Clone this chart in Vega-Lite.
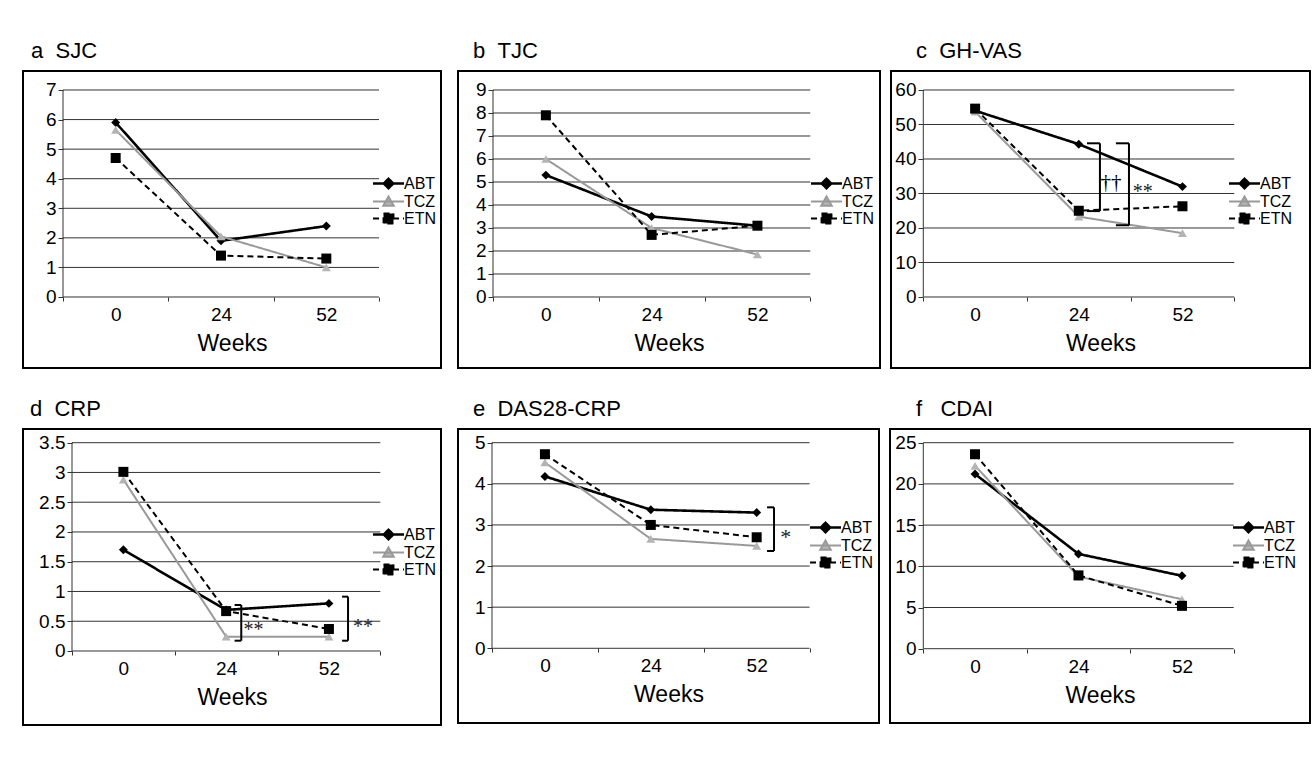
{
  "$schema": "https://vega.github.io/schema/vega-lite/v6.json",
  "background": "white",
  "padding": {"left": 22, "top": 38, "right": 0, "bottom": 0},
  "datasets": {
    "sjc": [
      {"drug": "ABT", "week": 0, "value": 5.9}, {"drug": "ABT", "week": 24, "value": 1.9}, {"drug": "ABT", "week": 52, "value": 2.4},
      {"drug": "TCZ", "week": 0, "value": 5.65}, {"drug": "TCZ", "week": 24, "value": 2.05}, {"drug": "TCZ", "week": 52, "value": 1.0},
      {"drug": "ETN", "week": 0, "value": 4.7}, {"drug": "ETN", "week": 24, "value": 1.4}, {"drug": "ETN", "week": 52, "value": 1.3}
    ],
    "tjc": [
      {"drug": "ABT", "week": 0, "value": 5.3}, {"drug": "ABT", "week": 24, "value": 3.5}, {"drug": "ABT", "week": 52, "value": 3.1},
      {"drug": "TCZ", "week": 0, "value": 6.0}, {"drug": "TCZ", "week": 24, "value": 3.0}, {"drug": "TCZ", "week": 52, "value": 1.85},
      {"drug": "ETN", "week": 0, "value": 7.9}, {"drug": "ETN", "week": 24, "value": 2.7}, {"drug": "ETN", "week": 52, "value": 3.1}
    ],
    "ghvas": [
      {"drug": "ABT", "week": 0, "value": 54.0}, {"drug": "ABT", "week": 24, "value": 44.3}, {"drug": "ABT", "week": 52, "value": 32.0},
      {"drug": "TCZ", "week": 0, "value": 53.7}, {"drug": "TCZ", "week": 24, "value": 23.3}, {"drug": "TCZ", "week": 52, "value": 18.5},
      {"drug": "ETN", "week": 0, "value": 54.6}, {"drug": "ETN", "week": 24, "value": 25.0}, {"drug": "ETN", "week": 52, "value": 26.3}
    ],
    "crp": [
      {"drug": "ABT", "week": 0, "value": 1.7}, {"drug": "ABT", "week": 24, "value": 0.69}, {"drug": "ABT", "week": 52, "value": 0.8},
      {"drug": "TCZ", "week": 0, "value": 2.88}, {"drug": "TCZ", "week": 24, "value": 0.24}, {"drug": "TCZ", "week": 52, "value": 0.24},
      {"drug": "ETN", "week": 0, "value": 3.01}, {"drug": "ETN", "week": 24, "value": 0.67}, {"drug": "ETN", "week": 52, "value": 0.37}
    ],
    "das": [
      {"drug": "ABT", "week": 0, "value": 4.18}, {"drug": "ABT", "week": 24, "value": 3.37}, {"drug": "ABT", "week": 52, "value": 3.3},
      {"drug": "TCZ", "week": 0, "value": 4.52}, {"drug": "TCZ", "week": 24, "value": 2.66}, {"drug": "TCZ", "week": 52, "value": 2.49},
      {"drug": "ETN", "week": 0, "value": 4.72}, {"drug": "ETN", "week": 24, "value": 3.0}, {"drug": "ETN", "week": 52, "value": 2.7}
    ],
    "cdai": [
      {"drug": "ABT", "week": 0, "value": 21.2}, {"drug": "ABT", "week": 24, "value": 11.5}, {"drug": "ABT", "week": 52, "value": 8.85},
      {"drug": "TCZ", "week": 0, "value": 22.2}, {"drug": "TCZ", "week": 24, "value": 8.75}, {"drug": "TCZ", "week": 52, "value": 6.0},
      {"drug": "ETN", "week": 0, "value": 23.6}, {"drug": "ETN", "week": 24, "value": 8.9}, {"drug": "ETN", "week": 52, "value": 5.2}
    ]
  },
  "resolve": {"scale": {"x": "independent", "y": "independent", "strokeDash": "independent"}, "legend": {"strokeDash": "independent"}},
  "spacing": 27,
  "vconcat": [
    {
      "spacing": 15,
      "resolve": {"scale": {"x": "independent", "y": "independent", "strokeDash": "independent"}, "legend": {"strokeDash": "independent"}},
      "hconcat": [
        {
          "width": 418, "height": 297,
          "title": {"text": "a\u00a0\u00a0SJC", "dx": 8},
          "layer": [
            {"data": {"values": [{"v": 0}, {"v": 1}, {"v": 2}, {"v": 3}, {"v": 4}, {"v": 5}, {"v": 6}, {"v": 7}]},
             "mark": {"type": "rule", "color": "#333333", "strokeWidth": 1},
             "encoding": {
               "x": {"datum": 0, "type": "ordinal", "bandPosition": 0, "title": "Weeks", "scale": {"type": "band", "domain": [0, 24, 52], "paddingInner": 0, "paddingOuter": 0.4842, "align": 0.3922}, "axis": {"offset": -71, "title": "Weeks"}},
               "x2": {"datum": 52, "bandPosition": 1},
               "y": {"field": "v", "type": "quantitative", "title": null, "scale": {"domain": [-2.401, 7.6425], "nice": false, "zero": false}, "axis": {"offset": -40, "values": [0, 1, 2, 3, 4, 5, 6, 7], "title": null, "tickCount": 20}}
             }},
            {"data": {"values": [{}]},
             "mark": {"type": "rule", "color": "#333333", "strokeWidth": 1},
             "encoding": {"x": {"datum": 0, "type": "ordinal", "bandPosition": 0, "title": "Weeks"}, "y": {"datum": 0, "type": "quantitative", "title": null}, "y2": {"datum": 7}}},
            {"data": {"name": "sjc"},
             "mark": {"type": "line"},
             "encoding": {
               "x": {"field": "week", "type": "ordinal", "title": "Weeks"},
               "y": {"field": "value", "type": "quantitative", "title": null},
               "color": {"condition": {"test": "datum.drug === 'TCZ'", "value": "#999999"}, "value": "#000000"},
               "strokeWidth": {"condition": {"test": "datum.drug === 'ABT'", "value": 2.6}, "value": 2},
               "strokeDash": {"field": "drug", "type": "nominal", "scale": {"domain": ["ABT", "TCZ", "ETN"], "range": [[1, 0], [1, 0], [6, 4]]},
                 "legend": {"orient": "none", "legendX": 357.5, "legendY": 104.5, "title": null,
                   "encoding": {"symbols": {
                     "shape": {"value": {"expr": "datum.value === 'ABT' ? 'M-1,0H1M0,-0.3L0.3,0L0,0.3L-0.3,0Z' : datum.value === 'TCZ' ? 'M-1,0H1M0,-0.32L0.34,0.28L-0.34,0.28Z' : 'M-1,0H1M-0.32,-0.32H0.32V0.32H-0.32Z'"}},
                     "fill": {"value": {"expr": "datum.value === 'TCZ' ? '#b4b4b4' : '#000000'"}},
                     "stroke": {"value": {"expr": "datum.value === 'TCZ' ? '#999999' : '#000000'"}},
                     "strokeWidth": {"value": {"expr": "datum.value === 'ABT' ? 2.6 : 2"}},
                     "opacity": {"value": 1}
                   }}}}
             }},
            {"data": {"name": "sjc"},
             "mark": {"type": "point", "filled": true, "opacity": 1},
             "encoding": {
               "x": {"field": "week", "type": "ordinal", "title": "Weeks"},
               "y": {"field": "value", "type": "quantitative", "title": null},
               "fill": {"condition": {"test": "datum.drug === 'TCZ'", "value": "#b4b4b4"}, "value": "#000000"},
               "size": {"condition": {"test": "datum.drug === 'ETN'", "value": 100}, "value": 80},
               "shape": {"condition": [{"test": "datum.drug === 'ABT'", "value": "diamond"}, {"test": "datum.drug === 'TCZ'", "value": "triangle-up"}], "value": "square"}
             }}
          ]
        },
        {
          "spacing": 9,
          "resolve": {"scale": {"x": "independent", "y": "independent", "strokeDash": "independent"}, "legend": {"strokeDash": "independent"}},
          "hconcat": [
            {
              "width": 422, "height": 297,
              "title": {"text": "b\u00a0\u00a0TJC", "dx": 15},
              "layer": [
                {"data": {"values": [{"v": 0}, {"v": 1}, {"v": 2}, {"v": 3}, {"v": 4}, {"v": 5}, {"v": 6}, {"v": 7}, {"v": 8}, {"v": 9}]},
                 "mark": {"type": "rule", "color": "#333333", "strokeWidth": 1},
                 "encoding": {
                   "x": {"datum": 0, "type": "ordinal", "bandPosition": 0, "title": "Weeks", "scale": {"type": "band", "domain": [0, 24, 52], "paddingInner": 0, "paddingOuter": 0.495, "align": 0.3343}, "axis": {"offset": -71, "title": "Weeks"}},
                   "x2": {"datum": 52, "bandPosition": 1},
                   "y": {"field": "v", "type": "quantitative", "title": null, "scale": {"domain": [-3.087, 9.826], "nice": false, "zero": false}, "axis": {"offset": -35, "values": [0, 1, 2, 3, 4, 5, 6, 7, 8, 9], "title": null, "tickCount": 20}}
                 }},
                {"data": {"values": [{}]},
                 "mark": {"type": "rule", "color": "#333333", "strokeWidth": 1},
                 "encoding": {"x": {"datum": 0, "type": "ordinal", "bandPosition": 0, "title": "Weeks"}, "y": {"datum": 0, "type": "quantitative", "title": null}, "y2": {"datum": 9}}},
                {"data": {"name": "tjc"},
                 "mark": {"type": "line"},
                 "encoding": {
                   "x": {"field": "week", "type": "ordinal", "title": "Weeks"},
                   "y": {"field": "value", "type": "quantitative", "title": null},
                   "color": {"condition": {"test": "datum.drug === 'TCZ'", "value": "#999999"}, "value": "#000000"},
                   "strokeWidth": {"condition": {"test": "datum.drug === 'ABT'", "value": 2.6}, "value": 2},
                   "strokeDash": {"field": "drug", "type": "nominal", "scale": {"domain": ["ABT", "TCZ", "ETN"], "range": [[1, 0], [1, 0], [6, 4]]},
                     "legend": {"orient": "none", "legendX": 360.5, "legendY": 104.5, "title": null,
                       "encoding": {"symbols": {
                         "shape": {"value": {"expr": "datum.value === 'ABT' ? 'M-1,0H1M0,-0.3L0.3,0L0,0.3L-0.3,0Z' : datum.value === 'TCZ' ? 'M-1,0H1M0,-0.32L0.34,0.28L-0.34,0.28Z' : 'M-1,0H1M-0.32,-0.32H0.32V0.32H-0.32Z'"}},
                         "fill": {"value": {"expr": "datum.value === 'TCZ' ? '#b4b4b4' : '#000000'"}},
                         "stroke": {"value": {"expr": "datum.value === 'TCZ' ? '#999999' : '#000000'"}},
                         "strokeWidth": {"value": {"expr": "datum.value === 'ABT' ? 2.6 : 2"}},
                         "opacity": {"value": 1}
                       }}}}
                 }},
                {"data": {"name": "tjc"},
                 "mark": {"type": "point", "filled": true, "opacity": 1},
                 "encoding": {
                   "x": {"field": "week", "type": "ordinal", "title": "Weeks"},
                   "y": {"field": "value", "type": "quantitative", "title": null},
                   "fill": {"condition": {"test": "datum.drug === 'TCZ'", "value": "#b4b4b4"}, "value": "#000000"},
                   "size": {"condition": {"test": "datum.drug === 'ETN'", "value": 100}, "value": 80},
                   "shape": {"condition": [{"test": "datum.drug === 'ABT'", "value": "diamond"}, {"test": "datum.drug === 'TCZ'", "value": "triangle-up"}], "value": "square"}
                 }}
              ]
            },
            {
              "width": 419, "height": 297,
              "title": {"text": "c\u00a0\u00a0GH-VAS", "dx": 25},
              "layer": [
                {"data": {"values": [{"v": 0}, {"v": 10}, {"v": 20}, {"v": 30}, {"v": 40}, {"v": 50}, {"v": 60}]},
                 "mark": {"type": "rule", "color": "#333333", "strokeWidth": 1},
                 "encoding": {
                   "x": {"datum": 0, "type": "ordinal", "bandPosition": 0, "title": "Weeks", "scale": {"type": "band", "domain": [0, 24, 52], "paddingInner": 0, "paddingOuter": 0.5209, "align": 0.299}, "axis": {"offset": -71, "title": "Weeks"}},
                   "x2": {"datum": 52, "bandPosition": 1},
                   "y": {"field": "v", "type": "quantitative", "title": null, "scale": {"domain": [-20.58, 65.507], "nice": false, "zero": false}, "axis": {"offset": -32, "values": [0, 10, 20, 30, 40, 50, 60], "title": null, "tickCount": 20}}
                 }},
                {"data": {"values": [{}]},
                 "mark": {"type": "rule", "color": "#333333", "strokeWidth": 1},
                 "encoding": {"x": {"datum": 0, "type": "ordinal", "bandPosition": 0, "title": "Weeks"}, "y": {"datum": 0, "type": "quantitative", "title": null}, "y2": {"datum": 60}}},
                {"data": {"name": "ghvas"},
                 "mark": {"type": "line"},
                 "encoding": {
                   "x": {"field": "week", "type": "ordinal", "title": "Weeks"},
                   "y": {"field": "value", "type": "quantitative", "title": null},
                   "color": {"condition": {"test": "datum.drug === 'TCZ'", "value": "#999999"}, "value": "#000000"},
                   "strokeWidth": {"condition": {"test": "datum.drug === 'ABT'", "value": 2.6}, "value": 2},
                   "strokeDash": {"field": "drug", "type": "nominal", "scale": {"domain": ["ABT", "TCZ", "ETN"], "range": [[1, 0], [1, 0], [6, 4]]},
                     "legend": {"orient": "none", "legendX": 345.5, "legendY": 104.5, "title": null,
                       "encoding": {"symbols": {
                         "shape": {"value": {"expr": "datum.value === 'ABT' ? 'M-1,0H1M0,-0.3L0.3,0L0,0.3L-0.3,0Z' : datum.value === 'TCZ' ? 'M-1,0H1M0,-0.32L0.34,0.28L-0.34,0.28Z' : 'M-1,0H1M-0.32,-0.32H0.32V0.32H-0.32Z'"}},
                         "fill": {"value": {"expr": "datum.value === 'TCZ' ? '#b4b4b4' : '#000000'"}},
                         "stroke": {"value": {"expr": "datum.value === 'TCZ' ? '#999999' : '#000000'"}},
                         "strokeWidth": {"value": {"expr": "datum.value === 'ABT' ? 2.6 : 2"}},
                         "opacity": {"value": 1}
                       }}}}
                 }},
                {"data": {"name": "ghvas"},
                 "mark": {"type": "point", "filled": true, "opacity": 1},
                 "encoding": {
                   "x": {"field": "week", "type": "ordinal", "title": "Weeks"},
                   "y": {"field": "value", "type": "quantitative", "title": null},
                   "fill": {"condition": {"test": "datum.drug === 'TCZ'", "value": "#b4b4b4"}, "value": "#000000"},
                   "size": {"condition": {"test": "datum.drug === 'ETN'", "value": 100}, "value": 80},
                   "shape": {"condition": [{"test": "datum.drug === 'ABT'", "value": "diamond"}, {"test": "datum.drug === 'TCZ'", "value": "triangle-up"}], "value": "square"}
                 }},
                {"data": {"values": [{"y": 44.55}, {"y": 24.9}]},
                 "mark": {"type": "rule", "color": "#000000", "strokeWidth": 2},
                 "encoding": {"x": {"datum": 24, "type": "ordinal", "bandPosition": 0.579, "title": "Weeks"}, "x2": {"datum": 24, "bandPosition": 0.704}, "y": {"field": "y", "type": "quantitative", "title": null}}},
                {"data": {"values": [{}]},
                 "mark": {"type": "rule", "color": "#000000", "strokeWidth": 2},
                 "encoding": {"x": {"datum": 24, "type": "ordinal", "bandPosition": 0.704, "title": "Weeks"}, "y": {"datum": 44.55, "type": "quantitative", "title": null}, "y2": {"datum": 24.9}}},
                {"data": {"values": [{"y": 44.55}, {"y": 20.8}]},
                 "mark": {"type": "rule", "color": "#000000", "strokeWidth": 2},
                 "encoding": {"x": {"datum": 24, "type": "ordinal", "bandPosition": 0.858, "title": "Weeks"}, "x2": {"datum": 24, "bandPosition": 0.984}, "y": {"field": "y", "type": "quantitative", "title": null}}},
                {"data": {"values": [{}]},
                 "mark": {"type": "rule", "color": "#000000", "strokeWidth": 2},
                 "encoding": {"x": {"datum": 24, "type": "ordinal", "bandPosition": 0.984, "title": "Weeks"}, "y": {"datum": 44.55, "type": "quantitative", "title": null}, "y2": {"datum": 20.8}}},
                {"data": {"values": [{"label": "††"}]},
                 "mark": {"type": "text", "font": "Liberation Serif", "fontSize": 21, "align": "center", "baseline": "middle", "color": "#000000", "fill": "#000000"},
                 "encoding": {"x": {"datum": 24, "type": "ordinal", "bandPosition": 0.81, "title": "Weeks"}, "y": {"datum": 33.1, "type": "quantitative", "title": null}, "text": {"field": "label"}}},
                {"data": {"values": [{"label": "**"}]},
                 "mark": {"type": "text", "font": "Liberation Serif", "fontSize": 20, "align": "center", "baseline": "middle", "color": "#222222", "fill": "#222222"},
                 "encoding": {"x": {"datum": 52, "type": "ordinal", "bandPosition": 0.116, "title": "Weeks"}, "y": {"datum": 30.3, "type": "quantitative", "title": null}, "text": {"field": "label"}}}
              ]
            }
          ]
        }
      ]
    },
    {
      "spacing": 15,
      "resolve": {"scale": {"x": "independent", "y": "independent", "strokeDash": "independent"}, "legend": {"strokeDash": "independent"}},
      "hconcat": [
        {
          "width": 418, "height": 296,
          "title": {"text": "d\u00a0\u00a0CRP", "dx": 7},
          "layer": [
            {"data": {"values": [{"v": 0}, {"v": 0.5}, {"v": 1}, {"v": 1.5}, {"v": 2}, {"v": 2.5}, {"v": 3}, {"v": 3.5}]},
             "mark": {"type": "rule", "color": "#333333", "strokeWidth": 1},
             "encoding": {
               "x": {"datum": 0, "type": "ordinal", "bandPosition": 0, "title": "Weeks", "scale": {"type": "band", "domain": [0, 24, 52], "paddingInner": 0, "paddingOuter": 0.5337, "align": 0.4467}, "axis": {"offset": -74, "title": "Weeks"}},
               "x2": {"datum": 52, "bandPosition": 1},
               "y": {"field": "v", "type": "quantitative", "title": null, "scale": {"domain": [-1.2435, 3.73], "nice": false, "zero": false}, "axis": {"offset": -49, "values": [0, 0.5, 1, 1.5, 2, 2.5, 3, 3.5], "title": null, "tickCount": 20}}
             }},
            {"data": {"values": [{}]},
             "mark": {"type": "rule", "color": "#333333", "strokeWidth": 1},
             "encoding": {"x": {"datum": 0, "type": "ordinal", "bandPosition": 0, "title": "Weeks"}, "y": {"datum": 0, "type": "quantitative", "title": null}, "y2": {"datum": 3.5}}},
            {"data": {"name": "crp"},
             "mark": {"type": "line"},
             "encoding": {
               "x": {"field": "week", "type": "ordinal", "title": "Weeks"},
               "y": {"field": "value", "type": "quantitative", "title": null},
               "color": {"condition": {"test": "datum.drug === 'TCZ'", "value": "#999999"}, "value": "#000000"},
               "strokeWidth": {"condition": {"test": "datum.drug === 'ABT'", "value": 2.6}, "value": 2},
               "strokeDash": {"field": "drug", "type": "nominal", "scale": {"domain": ["ABT", "TCZ", "ETN"], "range": [[1, 0], [1, 0], [6, 4]]},
                 "legend": {"orient": "none", "legendX": 357.5, "legendY": 97.5, "title": null,
                   "encoding": {"symbols": {
                     "shape": {"value": {"expr": "datum.value === 'ABT' ? 'M-1,0H1M0,-0.3L0.3,0L0,0.3L-0.3,0Z' : datum.value === 'TCZ' ? 'M-1,0H1M0,-0.32L0.34,0.28L-0.34,0.28Z' : 'M-1,0H1M-0.32,-0.32H0.32V0.32H-0.32Z'"}},
                     "fill": {"value": {"expr": "datum.value === 'TCZ' ? '#b4b4b4' : '#000000'"}},
                     "stroke": {"value": {"expr": "datum.value === 'TCZ' ? '#999999' : '#000000'"}},
                     "strokeWidth": {"value": {"expr": "datum.value === 'ABT' ? 2.6 : 2"}},
                     "opacity": {"value": 1}
                   }}}}
             }},
            {"data": {"name": "crp"},
             "mark": {"type": "point", "filled": true, "opacity": 1},
             "encoding": {
               "x": {"field": "week", "type": "ordinal", "title": "Weeks"},
               "y": {"field": "value", "type": "quantitative", "title": null},
               "fill": {"condition": {"test": "datum.drug === 'TCZ'", "value": "#b4b4b4"}, "value": "#000000"},
               "size": {"condition": {"test": "datum.drug === 'ETN'", "value": 100}, "value": 80},
               "shape": {"condition": [{"test": "datum.drug === 'ABT'", "value": "diamond"}, {"test": "datum.drug === 'TCZ'", "value": "triangle-up"}], "value": "square"}
             }},
            {"data": {"values": [{"y": 0.773}, {"y": 0.173}]},
             "mark": {"type": "rule", "color": "#000000", "strokeWidth": 2},
             "encoding": {"x": {"datum": 24, "type": "ordinal", "bandPosition": 0.582, "title": "Weeks"}, "x2": {"datum": 24, "bandPosition": 0.647}, "y": {"field": "y", "type": "quantitative", "title": null}}},
            {"data": {"values": [{}]},
             "mark": {"type": "rule", "color": "#000000", "strokeWidth": 2},
             "encoding": {"x": {"datum": 24, "type": "ordinal", "bandPosition": 0.647, "title": "Weeks"}, "y": {"datum": 0.773, "type": "quantitative", "title": null}, "y2": {"datum": 0.173}}},
            {"data": {"values": [{"y": 0.913}, {"y": 0.173}]},
             "mark": {"type": "rule", "color": "#000000", "strokeWidth": 2},
             "encoding": {"x": {"datum": 52, "type": "ordinal", "bandPosition": 0.628, "title": "Weeks"}, "x2": {"datum": 52, "bandPosition": 0.686}, "y": {"field": "y", "type": "quantitative", "title": null}}},
            {"data": {"values": [{}]},
             "mark": {"type": "rule", "color": "#000000", "strokeWidth": 2},
             "encoding": {"x": {"datum": 52, "type": "ordinal", "bandPosition": 0.686, "title": "Weeks"}, "y": {"datum": 0.913, "type": "quantitative", "title": null}, "y2": {"datum": 0.173}}},
            {"data": {"values": [{"label": "**"}]},
             "mark": {"type": "text", "font": "Liberation Serif", "fontSize": 20, "align": "center", "baseline": "middle", "color": "#222222", "fill": "#222222"},
             "encoding": {"x": {"datum": 24, "type": "ordinal", "bandPosition": 0.767, "title": "Weeks"}, "y": {"datum": 0.358, "type": "quantitative", "title": null}, "text": {"field": "label"}}},
            {"data": {"values": [{"label": "**"}]},
             "mark": {"type": "text", "font": "Liberation Serif", "fontSize": 20, "align": "center", "baseline": "middle", "color": "#222222", "fill": "#222222"},
             "encoding": {"x": {"datum": 52, "type": "ordinal", "bandPosition": 0.832, "title": "Weeks"}, "y": {"datum": 0.4, "type": "quantitative", "title": null}, "text": {"field": "label"}}}
          ]
        },
        {
          "spacing": 9,
          "resolve": {"scale": {"x": "independent", "y": "independent", "strokeDash": "independent"}, "legend": {"strokeDash": "independent"}},
          "hconcat": [
            {
              "width": 421, "height": 294,
              "title": {"text": "e\u00a0\u00a0DAS28-CRP", "dx": 15},
              "layer": [
                {"data": {"values": [{"v": 0}, {"v": 1}, {"v": 2}, {"v": 3}, {"v": 4}, {"v": 5}]},
                 "mark": {"type": "rule", "color": "#333333", "strokeWidth": 1},
                 "encoding": {
                   "x": {"datum": 0, "type": "ordinal", "bandPosition": 0, "title": "Weeks", "scale": {"type": "band", "domain": [0, 24, 52], "paddingInner": 0, "paddingOuter": 0.4883, "align": 0.3288}, "axis": {"offset": -75, "title": "Weeks"}},
                   "x2": {"datum": 52, "bandPosition": 1},
                   "y": {"field": "v", "type": "quantitative", "title": null, "scale": {"domain": [-1.817, 5.333], "nice": false, "zero": false}, "axis": {"offset": -34, "values": [0, 1, 2, 3, 4, 5], "title": null, "tickCount": 20}}
                 }},
                {"data": {"values": [{}]},
                 "mark": {"type": "rule", "color": "#333333", "strokeWidth": 1},
                 "encoding": {"x": {"datum": 0, "type": "ordinal", "bandPosition": 0, "title": "Weeks"}, "y": {"datum": 0, "type": "quantitative", "title": null}, "y2": {"datum": 5}}},
                {"data": {"name": "das"},
                 "mark": {"type": "line"},
                 "encoding": {
                   "x": {"field": "week", "type": "ordinal", "title": "Weeks"},
                   "y": {"field": "value", "type": "quantitative", "title": null},
                   "color": {"condition": {"test": "datum.drug === 'TCZ'", "value": "#999999"}, "value": "#000000"},
                   "strokeWidth": {"condition": {"test": "datum.drug === 'ABT'", "value": 2.6}, "value": 2},
                   "strokeDash": {"field": "drug", "type": "nominal", "scale": {"domain": ["ABT", "TCZ", "ETN"], "range": [[1, 0], [1, 0], [6, 4]]},
                     "legend": {"orient": "none", "legendX": 359.5, "legendY": 90.5, "title": null,
                       "encoding": {"symbols": {
                         "shape": {"value": {"expr": "datum.value === 'ABT' ? 'M-1,0H1M0,-0.3L0.3,0L0,0.3L-0.3,0Z' : datum.value === 'TCZ' ? 'M-1,0H1M0,-0.32L0.34,0.28L-0.34,0.28Z' : 'M-1,0H1M-0.32,-0.32H0.32V0.32H-0.32Z'"}},
                         "fill": {"value": {"expr": "datum.value === 'TCZ' ? '#b4b4b4' : '#000000'"}},
                         "stroke": {"value": {"expr": "datum.value === 'TCZ' ? '#999999' : '#000000'"}},
                         "strokeWidth": {"value": {"expr": "datum.value === 'ABT' ? 2.6 : 2"}},
                         "opacity": {"value": 1}
                       }}}}
                 }},
                {"data": {"name": "das"},
                 "mark": {"type": "point", "filled": true, "opacity": 1},
                 "encoding": {
                   "x": {"field": "week", "type": "ordinal", "title": "Weeks"},
                   "y": {"field": "value", "type": "quantitative", "title": null},
                   "fill": {"condition": {"test": "datum.drug === 'TCZ'", "value": "#b4b4b4"}, "value": "#000000"},
                   "size": {"condition": {"test": "datum.drug === 'ETN'", "value": 100}, "value": 80},
                   "shape": {"condition": [{"test": "datum.drug === 'ABT'", "value": "diamond"}, {"test": "datum.drug === 'TCZ'", "value": "triangle-up"}], "value": "square"}
                 }},
                {"data": {"values": [{"y": 3.428}, {"y": 2.366}]},
                 "mark": {"type": "rule", "color": "#000000", "strokeWidth": 2},
                 "encoding": {"x": {"datum": 52, "type": "ordinal", "bandPosition": 0.598, "title": "Weeks"}, "x2": {"datum": 52, "bandPosition": 0.664}, "y": {"field": "y", "type": "quantitative", "title": null}}},
                {"data": {"values": [{}]},
                 "mark": {"type": "rule", "color": "#000000", "strokeWidth": 2},
                 "encoding": {"x": {"datum": 52, "type": "ordinal", "bandPosition": 0.664, "title": "Weeks"}, "y": {"datum": 3.428, "type": "quantitative", "title": null}, "y2": {"datum": 2.366}}},
                {"data": {"values": [{"label": "*"}]},
                 "mark": {"type": "text", "font": "Liberation Serif", "fontSize": 22, "align": "center", "baseline": "middle", "color": "#222222", "fill": "#222222"},
                 "encoding": {"x": {"datum": 52, "type": "ordinal", "bandPosition": 0.774, "title": "Weeks"}, "y": {"datum": 2.71, "type": "quantitative", "title": null}, "text": {"field": "label"}}}
              ]
            },
            {
              "width": 420, "height": 294,
              "title": {"text": "f\u00a0\u00a0\u00a0CDAI", "dx": 26},
              "layer": [
                {"data": {"values": [{"v": 0}, {"v": 5}, {"v": 10}, {"v": 15}, {"v": 20}, {"v": 25}]},
                 "mark": {"type": "rule", "color": "#333333", "strokeWidth": 1},
                 "encoding": {
                   "x": {"datum": 0, "type": "ordinal", "bandPosition": 0, "title": "Weeks", "scale": {"type": "band", "domain": [0, 24, 52], "paddingInner": 0, "paddingOuter": 0.5296, "align": 0.3038}, "axis": {"offset": -74, "title": "Weeks"}},
                   "x2": {"datum": 52, "bandPosition": 1},
                   "y": {"field": "v", "type": "quantitative", "title": null, "scale": {"domain": [-9.017, 26.663], "nice": false, "zero": false}, "axis": {"offset": -33, "values": [0, 5, 10, 15, 20, 25], "title": null, "tickCount": 20}}
                 }},
                {"data": {"values": [{}]},
                 "mark": {"type": "rule", "color": "#333333", "strokeWidth": 1},
                 "encoding": {"x": {"datum": 0, "type": "ordinal", "bandPosition": 0, "title": "Weeks"}, "y": {"datum": 0, "type": "quantitative", "title": null}, "y2": {"datum": 25}}},
                {"data": {"name": "cdai"},
                 "mark": {"type": "line"},
                 "encoding": {
                   "x": {"field": "week", "type": "ordinal", "title": "Weeks"},
                   "y": {"field": "value", "type": "quantitative", "title": null},
                   "color": {"condition": {"test": "datum.drug === 'TCZ'", "value": "#999999"}, "value": "#000000"},
                   "strokeWidth": {"condition": {"test": "datum.drug === 'ABT'", "value": 2.6}, "value": 2},
                   "strokeDash": {"field": "drug", "type": "nominal", "scale": {"domain": ["ABT", "TCZ", "ETN"], "range": [[1, 0], [1, 0], [6, 4]]},
                     "legend": {"orient": "none", "legendX": 350.5, "legendY": 90.5, "title": null,
                       "encoding": {"symbols": {
                         "shape": {"value": {"expr": "datum.value === 'ABT' ? 'M-1,0H1M0,-0.3L0.3,0L0,0.3L-0.3,0Z' : datum.value === 'TCZ' ? 'M-1,0H1M0,-0.32L0.34,0.28L-0.34,0.28Z' : 'M-1,0H1M-0.32,-0.32H0.32V0.32H-0.32Z'"}},
                         "fill": {"value": {"expr": "datum.value === 'TCZ' ? '#b4b4b4' : '#000000'"}},
                         "stroke": {"value": {"expr": "datum.value === 'TCZ' ? '#999999' : '#000000'"}},
                         "strokeWidth": {"value": {"expr": "datum.value === 'ABT' ? 2.6 : 2"}},
                         "opacity": {"value": 1}
                       }}}}
                 }},
                {"data": {"name": "cdai"},
                 "mark": {"type": "point", "filled": true, "opacity": 1},
                 "encoding": {
                   "x": {"field": "week", "type": "ordinal", "title": "Weeks"},
                   "y": {"field": "value", "type": "quantitative", "title": null},
                   "fill": {"condition": {"test": "datum.drug === 'TCZ'", "value": "#b4b4b4"}, "value": "#000000"},
                   "size": {"condition": {"test": "datum.drug === 'ETN'", "value": 100}, "value": 80},
                   "shape": {"condition": [{"test": "datum.drug === 'ABT'", "value": "diamond"}, {"test": "datum.drug === 'TCZ'", "value": "triangle-up"}], "value": "square"}
                 }}
              ]
            }
          ]
        }
      ]
    }
  ],
  "config": {
    "view": {"stroke": "#000000", "strokeWidth": 2},
    "font": "Liberation Sans",
    "title": {"font": "Liberation Sans", "fontSize": 22, "fontWeight": "normal", "anchor": "start", "frame": "group", "color": "#000000", "baseline": "alphabetic", "offset": 8.5},
    "axis": {"grid": false, "domain": false, "labelOverlap": false, "labelFont": "Liberation Sans", "labelFontSize": 19, "labelColor": "#000000", "tickColor": "#333333", "tickWidth": 1, "titleFont": "Liberation Sans", "titleFontWeight": "normal", "titleColor": "#000000", "titleFontSize": 23},
    "axisY": {"tickSize": 5, "labelPadding": 2, "labelExpr": "'' + datum.value", "tickCount": 20},
    "axisX": {"tickBand": "extent", "tickSize": 4, "labelPadding": 4, "titlePadding": 8, "labelAngle": 0},
    "legend": {"labelFont": "Liberation Sans", "labelFontSize": 16, "labelColor": "#000000", "symbolSize": 961, "rowPadding": -3, "labelOffset": 7.5, "padding": 0, "offset": 0}
  }
}
